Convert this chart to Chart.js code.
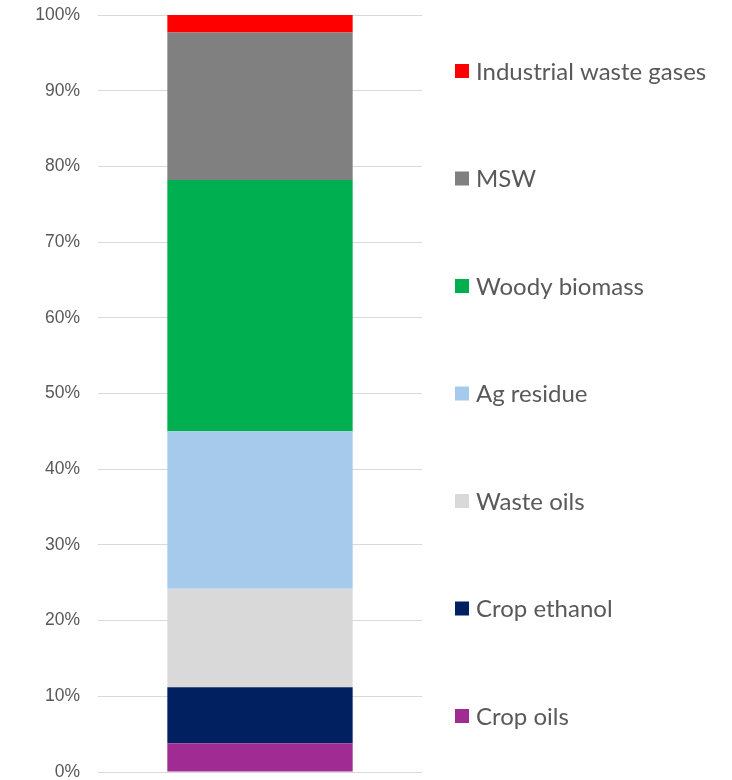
<!DOCTYPE html>
<html>
<head>
<meta charset="utf-8">
<script src="https://cdn.jsdelivr.net/npm/chart.js@4/dist/chart.umd.min.js"></script>
<style>
    html, body {
        margin: 0;
        padding: 0;
        background: #ffffff;
    }

    #chart-wrap {
        position: relative;
        width: 732px;
        height: 780px;
    }
</style>
</head>
<body>
<div id="chart-wrap">
    <canvas id="chart-canvas" width="732" height="780"></canvas>
</div>
<script>
// feedstock shares of a single stacked column (percent)
const categories = [''];
const seriesNames = ['Crop oils', 'Crop ethanol', 'Waste oils', 'Ag residue', 'Woody biomass', 'MSW', 'Industrial waste gases'];
const seriesValues = [3.8, 7.4, 13.0, 20.8, 33.2, 19.5, 2.3];
const seriesColors = ['#A02B93', '#002060', '#D9D9D9', '#A6CAEC', '#00B050', '#808080', '#FF0000'];
const tickLabels = ['0%', '10%', '20%', '30%', '40%', '50%', '60%', '70%', '80%', '90%', '100%'];

const textColor = '#595959';

function buildDatasets() {
    return seriesNames.map((name, i) => ({
        label: name,
        data: [seriesValues[i]],
        backgroundColor: seriesColors[i],
        borderWidth: 0,
        categoryPercentage: 1,
        barPercentage: 0.572
    }));
}

// legend spread evenly down the right side, top item = last series
const sideLegend = {
    id: 'sideLegend',
    afterDraw(chart) {
        const ctx = chart.ctx;
        const area = chart.chartArea;
        const sets = chart.data.datasets.slice().reverse();
        const first = area.top + 56;
        const last = area.bottom - 56;
        const step = (last - first) / (sets.length - 1);
        const boxX = area.right + 33;

        ctx.save();
        ctx.font = '24px Lato, "Open Sans", sans-serif';
        ctx.textBaseline = 'middle';
        ctx.textAlign = 'left';
        sets.forEach((ds, i) => {
            const y = first + step * i;
            ctx.fillStyle = ds.backgroundColor;
            ctx.fillRect(boxX, y - 7, 14, 14);
            ctx.fillStyle = textColor;
            ctx.fillText(ds.label, boxX + 21, y + 1);
        });
        ctx.restore();
    }
};

const ctx = document.getElementById('chart-canvas').getContext('2d');

new Chart(ctx, {
    type: 'bar',
    data: {
        labels: categories,
        datasets: buildDatasets()
    },
    options: {
        responsive: false,
        animation: false,
        events: [],
        layout: {
            padding: { top: 15, bottom: 8, left: 0, right: 310 }
        },
        plugins: {
            legend: { display: false },
            tooltip: { enabled: false }
        },
        scales: {
            x: {
                stacked: true,
                display: false
            },
            y: {
                stacked: true,
                min: 0,
                max: 100,
                afterFit(scale) {
                    scale.width = 98;
                    scale.paddingTop = 0;
                    scale.paddingBottom = 0;
                },
                border: { display: false },
                grid: {
                    color: '#D9D9D9',
                    lineWidth: 1,
                    drawTicks: false
                },
                ticks: {
                    stepSize: 10,
                    padding: 18,
                    color: textColor,
                    font: { family: '"Liberation Sans", Arial, sans-serif', size: 17.5 },
                    callback: (value) => tickLabels[Math.round(value / 10)]
                }
            }
        }
    },
    plugins: [sideLegend]
});
</script>
</body>
</html>
